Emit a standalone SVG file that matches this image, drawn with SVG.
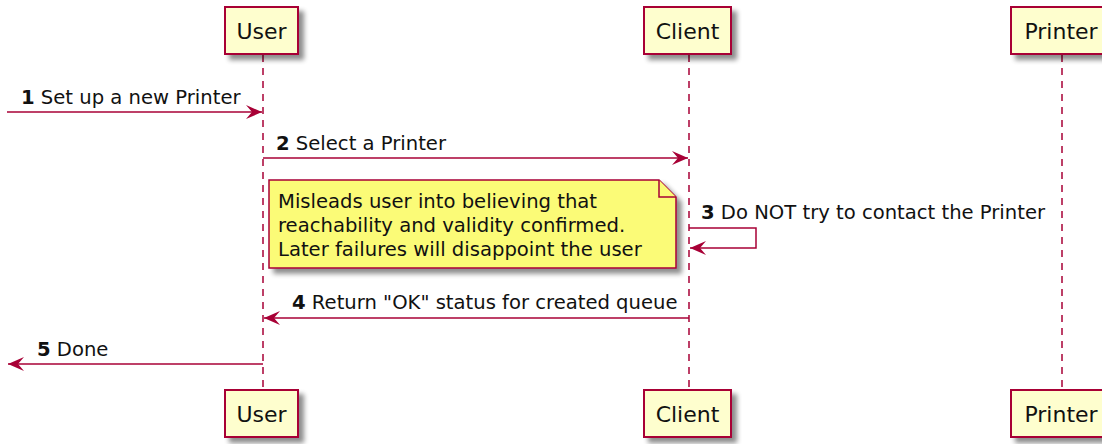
<svg xmlns="http://www.w3.org/2000/svg" width="1102" height="444" viewBox="0 0 1102 444">
<defs>
<filter id="sh" x="-20%" y="-20%" width="150%" height="160%">
<feGaussianBlur in="SourceAlpha" stdDeviation="2.5"/>
<feOffset dx="5" dy="5" result="b"/>
<feComponentTransfer><feFuncA type="linear" slope="0.45"/></feComponentTransfer>
<feMerge><feMergeNode/><feMergeNode in="SourceGraphic"/></feMerge>
</filter>
<marker id="ah" viewBox="0 0 16 14" refX="16" refY="7" markerWidth="16" markerHeight="14" markerUnits="userSpaceOnUse" orient="auto">
<path d="M0,0 L16,7 L0,14 L6,7 Z" fill="#A80036"/>
</marker>
<style>
.box{fill:#FEFECE;stroke:#A80036;stroke-width:2;}
.life{stroke:#A80036;stroke-width:1.5;stroke-dasharray:7,6;fill:none;}
.msg{stroke:#A80036;stroke-width:1.5;fill:none;marker-end:url(#ah);}
.pt{font-family:"DejaVu Sans",sans-serif;font-size:22px;fill:#111;text-anchor:middle;}
.mt{font-family:"DejaVu Sans",sans-serif;font-size:19.6px;fill:#111;}
.num{font-weight:bold;}
.note{fill:#FBFB77;stroke:#A80036;stroke-width:1.5;}
</style>
</defs>
<rect width="1102" height="444" fill="#fff"/>
<g id="lifelines">
<line class="life" x1="263" y1="55" x2="263" y2="390"/>
<line class="life" x1="689" y1="55" x2="689" y2="390"/>
<line class="life" x1="1062" y1="55" x2="1062" y2="390"/>
</g>
<g id="user-top"><rect class="box" x="225" y="7" width="73" height="47" filter="url(#sh)"/><text class="pt" x="261.5" y="39">User</text></g>
<g id="client-top"><rect class="box" x="644" y="7" width="87" height="47" filter="url(#sh)"/><text class="pt" x="687.5" y="39">Client</text></g>
<g id="printer-top"><rect class="box" x="1011" y="7" width="100" height="47" filter="url(#sh)"/><text class="pt" x="1061" y="39">Printer</text></g>
<g id="user-bottom"><rect class="box" x="225" y="390" width="73" height="47" filter="url(#sh)"/><text class="pt" x="261.5" y="422">User</text></g>
<g id="client-bottom"><rect class="box" x="644" y="390" width="87" height="47" filter="url(#sh)"/><text class="pt" x="687.5" y="422">Client</text></g>
<g id="printer-bottom"><rect class="box" x="1011" y="390" width="100" height="47" filter="url(#sh)"/><text class="pt" x="1061" y="422">Printer</text></g>
<g id="note">
<path class="note" d="M269,180 H659 L676,197 V268 H269 Z" filter="url(#sh)"/>
<path class="note" d="M659,180 V197 H676"/>
<text class="mt" x="278" y="208">Misleads user into believing that</text>
<text class="mt" x="278" y="232">reachability and validity confirmed.</text>
<text class="mt" x="278" y="256">Later failures will disappoint the user</text>
</g>
<g id="connectors">
<line class="msg" x1="7" y1="112" x2="262" y2="112"/>
<line class="msg" x1="263" y1="158" x2="688" y2="158"/>
<path class="msg" d="M689,228 H756 V248 H690"/>
<line class="msg" x1="689" y1="318" x2="264" y2="318"/>
<line class="msg" x1="263" y1="364" x2="8" y2="364"/>
</g>
<g id="labels">
<text class="mt" x="21" y="104"><tspan class="num">1</tspan> Set up a new Printer</text>
<text class="mt" x="276" y="150"><tspan class="num">2</tspan> Select a Printer</text>
<text class="mt" x="701" y="219"><tspan class="num">3</tspan> Do NOT try to contact the Printer</text>
<text class="mt" x="292" y="309"><tspan class="num">4</tspan> Return "OK" status for created queue</text>
<text class="mt" x="37" y="356"><tspan class="num">5</tspan> Done</text>
</g>
</svg>
